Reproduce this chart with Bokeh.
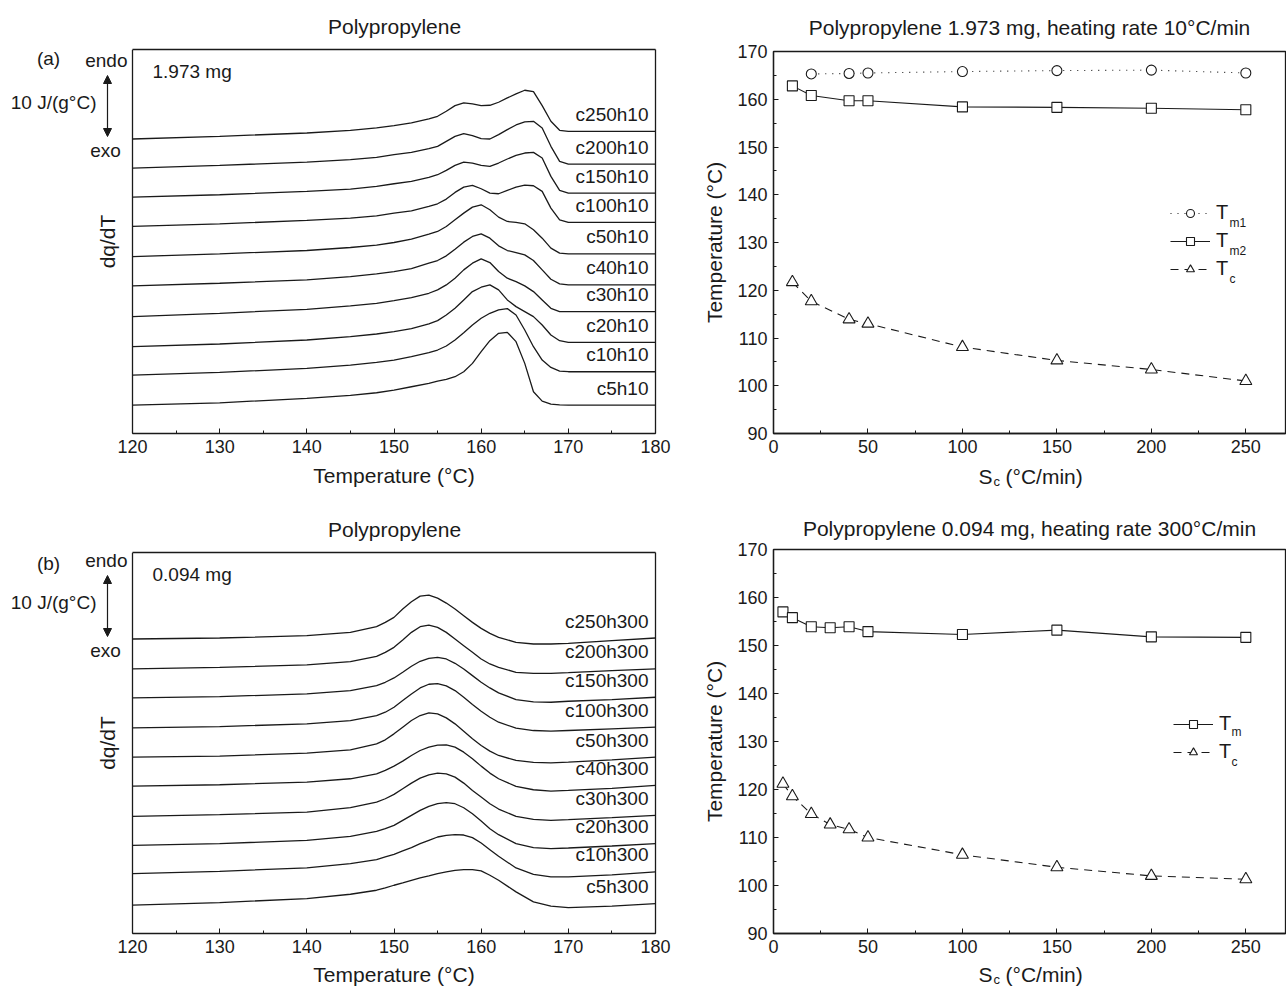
import math
from bokeh.plotting import figure
from bokeh.layouts import column, row
from bokeh.models import (Label, Arrow, NormalHead, Legend, LegendItem, FixedTicker, LinearAxis,
                          SingleIntervalTicker, ColumnDataSource, Span, Range1d)
from bokeh.core.properties import value
from bokeh.embed import file_html
from bokeh.resources import INLINE

FONT = "Liberation Sans"
INK = "#1a1a1a"

# ---------------- (a) 1.973 mg, heating 10 °C/min : DSC curves (dq/dT, a.u.) ----------------
T_a = [120, 130, 140, 145, 148, 150, 152, 154, 155, 156, 157, 158, 159, 160, 161, 162, 163,
       164, 165, 166, 167, 168, 169, 170, 180]
c250h10 = [88.2, 89.0, 90.0, 90.8, 91.5, 92.2, 93.0, 94.2, 95.0, 96.5, 98.2, 99.0, 98.7, 98.2, 98.3,
           99.2, 100.5, 101.7, 102.8, 102.4, 98.2, 93.5, 90.8, 90.5, 90.5]
c200h10 = [79.5, 80.3, 81.3, 82.0, 82.7, 83.5, 84.2, 85.3, 86.0, 87.5, 89.0, 89.8, 89.2, 88.3, 88.2,
           89.5, 91.0, 92.4, 93.3, 93.5, 91.5, 86.0, 81.5, 80.7, 80.7]
c150h10 = [70.8, 71.5, 72.5, 73.2, 74.0, 74.8, 75.5, 76.7, 77.5, 78.8, 80.3, 81.3, 81.0, 80.3, 80.0,
           81.0, 82.2, 83.3, 84.0, 84.2, 82.5, 77.0, 72.8, 72.0, 72.0]
c100h10 = [62.0, 62.8, 63.8, 64.5, 65.2, 66.0, 66.7, 68.0, 68.8, 70.2, 72.2, 73.8, 74.3, 73.3, 72.0,
           71.8, 72.8, 73.8, 74.4, 74.2, 72.5, 67.5, 64.0, 63.2, 63.2]
c50h10 = [53.0, 53.8, 54.8, 55.7, 56.4, 57.2, 58.2, 59.7, 60.5, 62.0, 64.0, 66.0, 67.8, 68.5, 67.0,
          64.8, 63.5, 63.2, 62.8, 61.0, 58.5, 55.5, 54.0, 53.8, 53.8]
c40h10 = [44.2, 45.0, 46.0, 47.0, 47.8, 48.5, 49.4, 51.0, 51.8, 53.2, 55.2, 57.3, 59.0, 59.8, 58.5,
          56.2, 54.8, 54.2, 53.5, 51.8, 49.0, 46.2, 44.8, 44.5, 44.5]
c30h10 = [35.0, 36.0, 37.2, 38.2, 39.0, 39.8, 40.7, 42.0, 43.0, 44.5, 46.5, 49.0, 51.0, 52.3, 51.2,
          48.5, 46.5, 45.5, 44.2, 42.5, 40.0, 37.5, 36.5, 36.5, 36.5]
c20h10 = [26.0, 26.8, 28.0, 29.0, 29.8, 30.5, 31.4, 32.8, 33.8, 35.5, 37.5, 40.0, 42.5, 43.8, 44.5,
          43.0, 40.0, 38.0, 36.5, 35.0, 32.5, 29.5, 27.8, 27.3, 27.3]
c10h10 = [17.5, 18.3, 19.5, 20.5, 21.3, 22.0, 23.0, 24.2, 25.0, 26.2, 28.0, 30.2, 32.5, 34.5, 36.0,
          37.0, 37.4, 35.5, 31.0, 26.0, 22.0, 19.8, 18.7, 18.5, 18.5]
c5h10 = [8.5, 9.2, 10.5, 11.4, 12.2, 13.0, 14.0, 15.0, 15.7, 16.2, 17.0, 18.5, 21.0, 24.5, 27.8,
         30.0, 30.3, 27.5, 21.0, 12.5, 9.7, 8.8, 8.6, 8.5, 8.5]
names_a = ["c250h10", "c200h10", "c150h10", "c100h10", "c50h10",
           "c40h10", "c30h10", "c20h10", "c10h10", "c5h10"]
curves_a = [c250h10, c200h10, c150h10, c100h10, c50h10, c40h10, c30h10, c20h10, c10h10, c5h10]

# ---------------- (b) 0.094 mg, heating 300 °C/min : DSC curves ----------------
T_b = [120, 130, 140, 145, 148, 149, 150, 151, 152, 153, 154, 155, 156, 157, 158, 159, 160, 161,
       162, 164, 166, 168, 170, 175, 180]
c250h300 = [88.5, 88.8, 89.5, 90.5, 92.2, 93.5, 95.0, 97.5, 99.7, 101.4, 101.7, 100.8, 99.3, 97.5,
            95.5, 93.5, 91.7, 90.2, 89.0, 87.5, 87.0, 87.0, 87.2, 88.0, 88.8]
c200h300 = [79.5, 80.0, 80.7, 81.7, 83.3, 84.5, 86.0, 88.2, 90.5, 92.2, 92.7, 92.0, 90.5, 88.5,
            86.5, 84.5, 82.5, 81.0, 80.0, 78.5, 78.2, 78.2, 78.4, 79.0, 79.5]
c150h300 = [70.8, 71.2, 72.0, 73.0, 74.5, 75.5, 76.8, 78.5, 80.3, 81.8, 82.7, 83.0, 82.5, 81.2,
            79.5, 77.5, 75.5, 73.8, 72.3, 70.3, 69.6, 69.5, 69.8, 70.3, 71.0]
c100h300 = [61.8, 62.2, 63.0, 64.0, 65.5, 66.5, 68.0, 70.0, 72.0, 73.8, 74.9, 75.1, 74.4, 73.0,
            71.0, 68.8, 66.8, 65.0, 63.5, 61.7, 61.0, 60.8, 61.0, 61.5, 62.0]
c50h300 = [53.0, 53.3, 54.2, 55.2, 57.0, 58.2, 60.0, 62.0, 64.0, 65.5, 66.3, 66.0, 64.8, 63.0,
           60.8, 58.5, 56.5, 54.8, 53.5, 52.0, 51.4, 51.3, 51.5, 52.2, 53.0]
c40h300 = [44.3, 44.7, 45.5, 46.5, 48.0, 49.0, 50.3, 51.8, 53.5, 55.0, 56.0, 56.6, 56.7, 56.0,
           54.5, 52.5, 50.3, 48.2, 46.5, 44.2, 43.2, 42.8, 43.0, 43.6, 44.5]
c30h300 = [35.2, 35.7, 36.5, 37.8, 39.5, 40.5, 41.8, 43.5, 45.2, 46.7, 47.7, 48.2, 48.0, 47.0,
           45.2, 43.0, 41.0, 39.0, 37.4, 35.2, 34.3, 34.0, 34.2, 34.8, 35.5]
c20h300 = [26.5, 27.0, 28.0, 29.2, 30.7, 31.5, 32.5, 34.0, 35.5, 37.0, 38.2, 39.0, 39.3, 39.0,
           37.8, 36.0, 33.8, 31.5, 29.7, 27.0, 25.8, 25.5, 25.7, 26.3, 27.0]
c10h300 = [18.0, 18.7, 19.7, 21.0, 22.2, 23.0, 23.8, 24.8, 25.8, 27.0, 28.0, 29.0, 29.5, 29.7,
           29.6, 28.8, 27.2, 25.2, 23.2, 19.7, 17.8, 17.0, 17.0, 17.6, 18.5]
c5h300 = [8.5, 9.3, 10.5, 11.8, 13.0, 13.7, 14.5, 15.2, 16.0, 16.7, 17.3, 18.0, 18.5, 19.0,
          19.2, 19.2, 18.8, 17.5, 16.0, 12.5, 9.5, 8.2, 7.8, 8.2, 9.0]
names_b = ["c250h300", "c200h300", "c150h300", "c100h300", "c50h300",
           "c40h300", "c30h300", "c20h300", "c10h300", "c5h300"]
curves_b = [c250h300, c200h300, c150h300, c100h300, c50h300, c40h300, c30h300, c20h300,
            c10h300, c5h300]

# ---------------- peak temperatures vs cooling rate Sc ----------------
Sc_a_m1 = [20, 40, 50, 100, 150, 200, 250]
Tm1_a = [165.3, 165.4, 165.5, 165.8, 166.0, 166.1, 165.5]
Sc_a = [10, 20, 40, 50, 100, 150, 200, 250]
Tm2_a = [162.8, 160.8, 159.7, 159.7, 158.4, 158.3, 158.1, 157.8]
Tc_a = [121.7, 117.7, 113.9, 113.0, 108.1, 105.3, 103.4, 101.0]

Sc_b = [5, 10, 20, 30, 40, 50, 100, 150, 200, 250]
Tm_b = [157.0, 155.8, 153.9, 153.7, 153.9, 152.9, 152.3, 153.2, 151.8, 151.7]
Tc_b = [121.2, 118.6, 114.9, 112.7, 111.7, 110.0, 106.4, 103.8, 102.0, 101.3]

T_LO, T_HI = 120, 180          # temperature axis of the DSC panels
BOX_LEFT = 130                 # px between canvas-frame left and the T=120 border
BOX_W = 523                    # px width of the DSC box


def lab(p, text, x, y, size="19px", align="left", baseline="middle", angle=0.0):
    p.add_layout(Label(x=x, y=y, x_units="screen", y_units="screen", text=text, angle=angle,
                       text_font=FONT, text_font_size=size, text_color=INK,
                       text_align=align, text_baseline=baseline))


def style_axis(ax):
    ax.axis_line_color = INK
    ax.axis_line_width = 1.3
    ax.major_tick_line_color = INK
    ax.minor_tick_line_color = INK
    ax.major_tick_in = 5
    ax.major_tick_out = 0
    ax.minor_tick_in = 3
    ax.minor_tick_out = 0
    ax.major_label_standoff = 6
    ax.major_label_text_font = FONT
    ax.major_label_text_font_size = "18px"
    ax.major_label_text_color = INK
    ax.axis_label_standoff = 6
    ax.axis_label_text_font = FONT
    ax.axis_label_text_font_size = "21px"
    ax.axis_label_text_font_style = "normal"
    ax.axis_label_text_color = INK


def style_title(p, standoff):
    p.title.text_font = FONT
    p.title.text_font_size = "21px"
    p.title.text_font_style = "normal"
    p.title.text_color = INK
    p.title.standoff = standoff
    p.xgrid.visible = False
    p.ygrid.visible = False


def strip(width, left, right, height, parts):
    """Frame-aligned text strip holding an axis title that sits under a plot box."""
    t = figure(width=width, height=height, x_range=(0, width - left - right),
               y_range=(0, height), min_border_left=left, min_border_right=right,
               min_border_top=0, min_border_bottom=0,
               output_backend="svg", toolbar_location=None)
    t.axis.visible = False
    t.xgrid.visible = False
    t.ygrid.visible = False
    t.outline_line_color = None
    for txt, x, y, size, align in parts:
        lab(t, txt, x, y, size=size, align=align)
    return t


def dsc_panel(T, curves, names, tag, tag_y, mass, height, top, bottom, ymax):
    lo = T_LO - BOX_LEFT * (T_HI - T_LO) / BOX_W
    p = figure(width=700, height=height, x_range=Range1d(lo, T_HI), y_range=(0, ymax),
               min_border_left=2, min_border_right=45, min_border_top=top,
               min_border_bottom=bottom, output_backend="svg", toolbar_location=None,
               title="Polypropylene")
    style_title(p, 24)
    p.title.align = "left"
    p.title.offset = BOX_LEFT + BOX_W / 2 - 66
    p.outline_line_color = None
    for vals in curves:
        p.line(T, vals, line_color=INK, line_width=1.3)
    src = ColumnDataSource(dict(x=[T[-1]] * len(names), y=[c[-1] for c in curves], t=names))
    p.text(x="x", y="y", text="t", source=src, x_offset=-7, y_offset=-17,
           text_align="right", text_baseline="middle", text_font=value(FONT),
           text_font_size="19px", text_color=INK)
    # box: bottom axis, top rule, right rule and left rule at T=120
    p.yaxis.visible = False
    xa = p.xaxis[0]
    style_axis(xa)
    xa.bounds = (T_LO, T_HI)
    xa.ticker = SingleIntervalTicker(interval=10, num_minor_ticks=2)
    top_ax = LinearAxis(bounds=(T_LO, T_HI), ticker=FixedTicker(ticks=[]),
                        major_label_text_font_size="0px")
    style_axis(top_ax)
    top_ax.major_label_standoff = 0
    p.add_layout(top_ax, "above")
    right_ax = LinearAxis(ticker=FixedTicker(ticks=[]), major_label_text_font_size="0px")
    style_axis(right_ax)
    p.add_layout(right_ax, "right")
    p.add_layout(Span(location=T_LO, dimension="height", line_color=INK, line_width=1.3))
    # annotations to the left of the box
    fb = height - top - bottom
    lab(p, tag, 46, tag_y, align="center")
    lab(p, "endo", 125, 373, align="right")
    lab(p, "10 J/(g°C)", 94, 331, align="right")
    lab(p, "exo", 103, 283, align="center")
    lab(p, "dq/dT", 105, fb / 2, size="21px", align="center", angle=math.pi / 2)
    p.add_layout(Arrow(x_start=105, y_start=297, x_end=105, y_end=358,
                       start_units="screen", end_units="screen",
                       line_color=INK, line_width=1.2,
                       start=NormalHead(size=8, fill_color=INK, line_color=INK),
                       end=NormalHead(size=8, fill_color=INK, line_color=INK)))
    lab(p, mass, BOX_LEFT + 20, fb - 22)
    return p


def rate_panel(title, height, top, bottom, standoff, series, legend_loc, subs):
    p = figure(width=586, height=height, x_range=(0, 271), y_range=(90, 170),
               min_border_left=71, min_border_right=1, min_border_top=top,
               min_border_bottom=bottom, output_backend="svg", toolbar_location=None,
               title=title)
    style_title(p, standoff)
    p.title.align = "center"
    p.outline_line_color = INK
    p.outline_line_width = 1.3
    style_axis(p.xaxis[0])
    style_axis(p.yaxis[0])
    items = []
    for sx, sy, marker, dash in series:
        lr = p.line(sx, sy, line_color=INK, line_width=1.1, line_dash=dash)
        sr = p.scatter(sx, sy, marker=marker, size=10 if marker != "triangle" else 12,
                       line_color=INK, line_width=1.1, fill_color="white")
        items.append(LegendItem(label="T", renderers=[lr, sr]))
    leg = Legend(items=items, location=legend_loc, glyph_width=40, glyph_height=20,
                 label_height=20, spacing=5, padding=0, margin=0, label_standoff=6,
                 border_line_color=None, background_fill_alpha=0,
                 label_text_font=FONT, label_text_font_size="20px", label_text_color=INK)
    p.add_layout(leg)
    for txt, sxp, syp in subs:
        lab(p, txt, sxp, syp, size="12px")
    p.xaxis.ticker = SingleIntervalTicker(interval=50, num_minor_ticks=2)
    p.yaxis.ticker = SingleIntervalTicker(interval=10, num_minor_ticks=2)
    p.yaxis.axis_label = "Temperature (°C)"
    p.yaxis.axis_label_standoff = 8
    return p


def temp_title(height, y):
    return strip(700, 2, 45, height,
                 [("Temperature (°C)", BOX_LEFT + BOX_W / 2, y, "21px", "center")])


def sc_title(height, y):
    return strip(586, 71, 1, height,
                 [("S", 205, y, "21px", "left"),
                  ("c", 220, y - 5, "13px", "left"),
                  ("(°C/min)", 232, y, "21px", "left")])


# top row (500 px)
p1 = dsc_panel(T_a, curves_a, names_a, "(a)", 375, "1.973 mg", 463, 49, 30, 115)
t1 = temp_title(37, 25)
p2 = rate_panel("Polypropylene 1.973 mg, heating rate 10°C/min", 465, 51, 32, 26,
                [(Sc_a_m1, Tm1_a, "circle", "1 6"),
                 (Sc_a, Tm2_a, "square", "solid"),
                 (Sc_a, Tc_a, "triangle", "8 6")],
                (397, 153),
                [("m1", 456, 211), ("m2", 456, 183), ("c", 456, 155)])
s2 = sc_title(35, 24)

# bottom row (486 px)
p3 = dsc_panel(T_b, curves_b, names_b, "(b)", 370, "0.094 mg", 461, 52, 28, 114.5)
t3 = temp_title(25, 12)
p4 = rate_panel("Polypropylene 0.094 mg, heating rate 300°C/min", 461, 49, 28, 19,
                [(Sc_b, Tm_b, "square", "solid"),
                 (Sc_b, Tc_b, "triangle", "8 6")],
                (400, 170),
                [("m", 458, 202), ("c", 458, 172)])
s4 = sc_title(25, 12)

layout = column(row(column(p1, t1), column(p2, s2)), row(column(p3, t3), column(p4, s4)))
open("out.html", "w").write(file_html(layout, INLINE, "Polypropylene DSC"))
